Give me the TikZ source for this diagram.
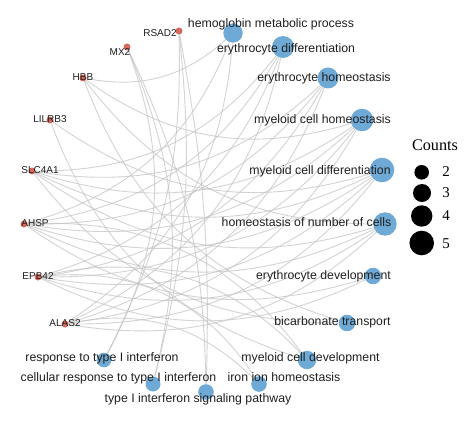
\documentclass[tikz,border=0pt]{standalone}
\usepackage{fontspec}
\setmainfont{Liberation Sans}
\newfontfamily\legserif{Liberation Serif}
\pgfdeclarelayer{bg}
\pgfsetlayers{bg,main}
\definecolor{termblue}{RGB}{110,170,213}
\definecolor{genered}{RGB}{212,106,94}
\definecolor{edgegray}{RGB}{196,196,196}
\begin{document}
\begin{tikzpicture}[x=1pt,y=-1pt,
 term/.style={circle,fill=termblue,inner sep=0pt,minimum size=#1},
 gene/.style={circle,fill=genered,inner sep=0pt,minimum size=7pt},
 tlab/.style={font=\fontsize{12.3}{14}\selectfont,inner sep=0pt,text height=0.72em,text depth=0.2em,text=black!88},
 glab/.style={font=\fontsize{10}{12}\selectfont,inner sep=0pt,text height=0.72em,text depth=0.2em,text=black!88},
 edge/.style={draw=edgegray,line width=0.9pt,opacity=0.75},
 leg/.style={circle,fill=black,inner sep=0pt,minimum size=#1},
 legtxt/.style={font=\legserif\fontsize{15}{17}\selectfont,inner sep=0pt},
]
\useasboundingbox (0,0) rectangle (474,425);
% term nodes
\node[term=19.4pt] (hemo) at (233,33) {};
\node[term=22pt] (edif) at (283,47) {};
\node[term=21pt] (ehom) at (328,78) {};
\node[term=22.6pt] (mhom) at (362,120) {};
\node[term=24.6pt] (mdif) at (382,170) {};
\node[term=23.4pt] (hnum) at (385,224) {};
\node[term=16.6pt] (edev) at (373,276) {};
\node[term=16.6pt] (bica) at (347,323) {};
\node[term=18.4pt] (mdev) at (307,360) {};
\node[term=15.6pt] (iron) at (259,384) {};
\node[term=15.6pt] (sig) at (206,392) {};
\node[term=15pt] (cres) at (153,384) {};
\node[term=14.6pt] (resp) at (104,360) {};
% gene nodes
\node[gene] (rsad) at (179,31) {};
\node[gene] (mx) at (127,47) {};
\node[gene] (hbb) at (83,78) {};
\node[gene] (lil) at (50,120) {};
\node[gene] (slc) at (32,171) {};
\node[gene] (ahsp) at (24,224) {};
\node[gene] (epb) at (38,277) {};
\node[gene] (alas) at (65,324) {};
% edges
\begin{pgfonlayer}{bg}
\foreach \g/\t/\b in {
 rsad/resp/14, rsad/cres/10, rsad/sig/6,
 mx/resp/24, mx/cres/18, mx/sig/12,
 ahsp/mdev/28, epb/mdev/30, epb/iron/32, alas/iron/28}
 \draw[edge] (\g) to[bend left=\b] (\t);
\foreach \g/\t in {
 hbb/hemo, hbb/mhom, hbb/hnum, hbb/bica,
 lil/mdif, lil/mdev,
 slc/edif, slc/ehom, slc/mhom, slc/mdif, slc/hnum, slc/bica,
 ahsp/hemo, ahsp/edif, ahsp/ehom, ahsp/mhom, ahsp/mdif, ahsp/hnum, ahsp/edev,
 epb/edif, epb/ehom, epb/mhom, epb/mdif, epb/hnum, epb/edev,
 alas/hemo, alas/edif, alas/ehom, alas/mhom, alas/mdif, alas/hnum}
 \draw[edge] (\g) to[bend right=26] (\t);
\end{pgfonlayer}
% term labels
\node[tlab] (lhemo) at (271,25) {hemoglobin metabolic process};
\node[tlab] (ledif) at (286,50) {erythrocyte differentiation};
\node[tlab] (lehom) at (324,79) {erythrocyte homeostasis};
\node[tlab] (lmhom) at (322.5,121) {myeloid cell homeostasis};
\node[tlab] (lmdif) at (320,172) {myeloid cell differentiation};
\node[tlab] (lhnum) at (306.5,224) {homeostasis of number of cells};
\node[tlab] (ledev) at (323.5,277) {erythrocyte development};
\node[tlab] (lbica) at (332.5,323) {bicarbonate transport};
\node[tlab] (lmdev) at (310.5,359) {myeloid cell development};
\node[tlab] (liron) at (284,379) {iron ion homeostasis};
\node[tlab] (lsig) at (198,400) {type I interferon signaling pathway};
\node[tlab] (lcres) at (118.5,379) {cellular response to type I interferon};
\node[tlab] (lresp) at (102,359) {response to type I interferon};
% gene labels
\node[glab] (lrsad) at (160,34) {RSAD2};
\node[glab] (lmx) at (120,53) {MX2};
\node[glab] (lhbb) at (83,78) {HBB};
\node[glab] (llil) at (50,120) {LILRB3};
\node[glab] (lslc) at (40,171) {SLC4A1};
\node[glab] (lahsp) at (35,224) {AHSP};
\node[glab] (lepb) at (38,277) {EPB42};
\node[glab] (lalas) at (65,324) {ALAS2};
% legend
\node[legtxt,font=\legserif\fontsize{16.2}{18}\selectfont] (lcount) at (435,145) {Counts};
\node[leg=14.6pt] (c2) at (421.7,172.3) {};
\node[leg=18pt] (c3) at (422,193) {};
\node[leg=21.4pt] (c4) at (421.7,216) {};
\node[leg=24.6pt] (c5) at (421.7,243) {};
\node[legtxt] (n2) at (446,172) {2};
\node[legtxt] (n3) at (446,193) {3};
\node[legtxt] (n4) at (446,216) {4};
\node[legtxt] (n5) at (446,244) {5};
\end{tikzpicture}
\end{document}
